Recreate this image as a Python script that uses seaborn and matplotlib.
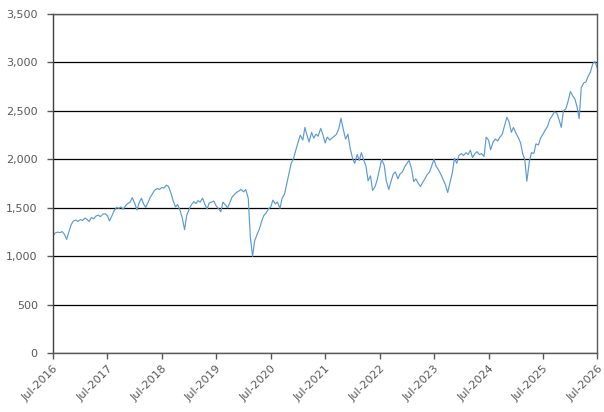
import matplotlib
matplotlib.use("Agg")
import matplotlib.pyplot as plt
import matplotlib.dates as mdates
from matplotlib.ticker import FuncFormatter
import seaborn as sns
import pandas as pd

# semi-monthly readings, Jul-2016 .. Jul-2026
start_date = "2016-07-01"
values = [
    1210, 1240, 1250, 1245, 1255, 1230, 1175, 1250, 1330, 1365, 1375, 1360,
    1380, 1370, 1395, 1380, 1360, 1400, 1390, 1415, 1425, 1410, 1435, 1440,
    1420, 1365, 1420, 1470, 1505, 1495, 1510, 1485, 1525, 1545, 1560, 1605,
    1545, 1480, 1560, 1600, 1540, 1505, 1560, 1610, 1650, 1685, 1700, 1690,
    1710, 1705, 1735, 1720, 1650, 1575, 1510, 1535, 1470, 1400, 1275, 1420,
    1490, 1530, 1565, 1545, 1575, 1560, 1600, 1540, 1490, 1550, 1560, 1570,
    1520, 1495, 1460, 1560, 1530, 1500, 1555, 1610, 1640, 1660, 1675, 1690,
    1665, 1690, 1600, 1200, 1000, 1160, 1230, 1280, 1360, 1420, 1450, 1490,
    1510, 1580, 1540, 1560, 1495, 1600, 1640, 1740, 1860, 1960, 2010, 2090,
    2180, 2250, 2200, 2330, 2250, 2180, 2280, 2220, 2260, 2240, 2320, 2260,
    2170, 2230, 2200, 2220, 2240, 2260, 2320, 2425, 2300, 2210, 2260, 2120,
    2010, 1960, 2050, 1990, 2070, 2000, 1930, 1780, 1830, 1680, 1720, 1790,
    1900, 2000, 1940, 1780, 1690, 1770, 1850, 1870, 1800, 1850, 1870, 1920,
    1960, 1990, 1900, 1770, 1800, 1760, 1720, 1760, 1800, 1840, 1870, 1930,
    2000, 1930, 1890, 1850, 1790, 1740, 1660, 1750, 1860, 2010, 1960, 2040,
    2060, 2040, 2070, 2050, 2095, 2020, 2060, 2080, 2050, 2060, 2030, 2230,
    2200, 2100, 2180, 2210, 2190, 2230, 2260, 2340, 2435, 2390, 2280, 2330,
    2270, 2230, 2170, 2060, 2000, 1775, 1980, 2070, 2060, 2160, 2150, 2220,
    2260, 2300, 2340, 2410, 2450, 2490, 2480, 2420, 2330, 2500, 2520, 2590,
    2700, 2660, 2620, 2540, 2420, 2740, 2790, 2800, 2860, 2900, 2990, 3010,
    2940,
]
dates = pd.date_range(start_date, periods=len(values), freq="SMS")
df = pd.DataFrame({"date": dates, "value": values})

y_ticks = [0, 500, 1000, 1500, 2000, 2500, 3000, 3500]
x_ticks = pd.date_range("2016-07-01", "2026-07-01", freq="12MS")

sns.set_style("white")
plt.rcParams["font.family"] = ["DejaVu Sans"]

fig = plt.figure(figsize=(6.04, 4.12), dpi=100)
ax = fig.add_axes([0.0877, 0.1425, 0.9013, 0.8235])

sns.lineplot(data=df, x="date", y="value", ax=ax, color="#5B9BD5", linewidth=0.85)

ax.set_ylim(0, 3500)
ax.set_xlim(x_ticks[0], x_ticks[-1])
ax.set_yticks(y_ticks)
ax.set_xticks(x_ticks)
ax.xaxis.set_major_formatter(mdates.DateFormatter("%b-%Y"))
ax.yaxis.set_major_formatter(FuncFormatter(lambda v, p: f"{int(v):,}"))
ax.yaxis.grid(True, color="black", linewidth=0.9)
ax.set_axisbelow(True)

ax.set_xlabel("")
ax.set_ylabel("")
ax.tick_params(axis="both", colors="#595959", labelsize=8, length=4, width=1,
               direction="out", bottom=True, left=True)
ax.tick_params(axis="y", pad=7)
plt.setp(ax.get_xticklabels(), rotation=45, ha="right", rotation_mode="anchor")

for side in ["left", "bottom", "right", "top"]:
    ax.spines[side].set_visible(True)
    ax.spines[side].set_color("#595959")
    ax.spines[side].set_linewidth(1)
ax.spines["left"].set_color("#404040")

fig.savefig("out.png", dpi=100)
